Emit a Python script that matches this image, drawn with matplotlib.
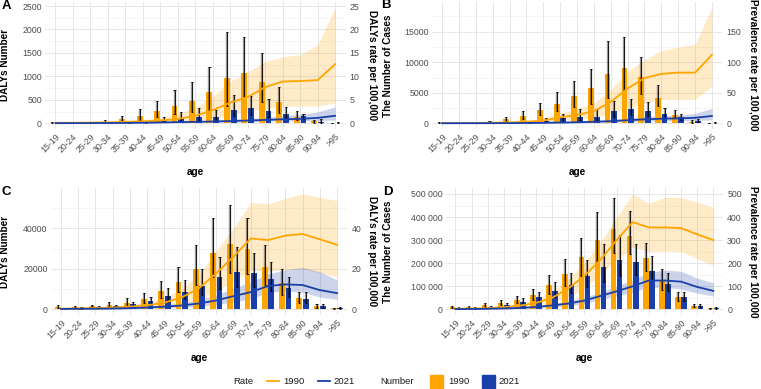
import numpy as np
import matplotlib.pyplot as plt
from matplotlib.ticker import FuncFormatter, MultipleLocator
from matplotlib.lines import Line2D
from matplotlib.patches import Rectangle

plt.rcParams['font.family'] = ['Liberation Sans', 'DejaVu Sans']

ages = ['15-19', '20-24', '25-29', '30-34', '35-39', '40-44', '45-49', '50-54', '55-59',
        '60-64', '65-69', '70-74', '75-79', '80-84', '85-90', '90-94', '>95']

# A - DALYs, number + rate
a_num_1990 = [10, 5, 6, 20, 92, 163, 263, 376, 483, 660, 966, 1080, 888, 462, 142, 43, 5]
a_num_1990_lo = [3, 1, 2, 8, 40, 75, 140, 190, 250, 285, 360, 555, 450, 215, 60, 15, 1]
a_num_1990_hi = [25, 15, 18, 60, 165, 310, 470, 715, 870, 1210, 1940, 1830, 1500, 765, 260, 80, 12]
a_num_2021 = [3, 3, 3, 5, 10, 30, 55, 110, 125, 140, 285, 320, 260, 195, 150, 35, 15]
a_num_2021_lo = [1, 1, 1, 2, 4, 12, 25, 55, 65, 75, 150, 170, 140, 110, 85, 15, 5]
a_num_2021_hi = [8, 8, 8, 15, 25, 55, 140, 250, 320, 285, 600, 580, 510, 355, 200, 85, 35]
a_rate_1990 = [0.1, 0.1, 0.15, 0.2, 0.3, 0.4, 0.6, 0.9, 1.6, 2.8, 4.4, 5.6, 7.7, 8.9, 9.0, 9.2, 12.6]
a_rate_1990_lo = [0.05, 0.05, 0.07, 0.1, 0.15, 0.2, 0.3, 0.4, 0.6, 1.1, 1.8, 2.5, 3.2, 3.6, 3.7, 3.7, 4.3]
a_rate_1990_hi = [0.2, 0.2, 0.3, 0.4, 0.6, 0.8, 1.2, 2.0, 3.4, 5.7, 8.9, 11.0, 13.1, 14.2, 14.6, 16.7, 24.7]
a_rate_2021 = [0.03, 0.03, 0.04, 0.05, 0.08, 0.12, 0.18, 0.25, 0.3, 0.38, 0.48, 0.58, 0.72, 0.85, 0.95, 1.15, 1.6]
a_rate_2021_lo = [0.01, 0.01, 0.02, 0.03, 0.04, 0.06, 0.1, 0.14, 0.17, 0.2, 0.26, 0.32, 0.4, 0.45, 0.5, 0.55, 0.7]
a_rate_2021_hi = [0.06, 0.06, 0.08, 0.1, 0.15, 0.22, 0.32, 0.42, 0.5, 0.65, 0.85, 1.0, 1.25, 1.6, 1.9, 2.4, 3.5]

# B - prevalence, number + rate
b_num_1990 = [100, 50, 50, 120, 710, 1200, 2180, 3160, 4470, 5725, 8015, 9050, 7580, 4200, 1360, 270, 40]
b_num_1990_lo = [40, 15, 15, 50, 350, 650, 1350, 2000, 2600, 3100, 4200, 5500, 4800, 2800, 900, 100, 10]
b_num_1990_hi = [250, 150, 150, 350, 1050, 1950, 3350, 5200, 6900, 8950, 13500, 14150, 10900, 6300, 2100, 550, 120]
b_num_2021 = [20, 20, 30, 40, 80, 150, 440, 820, 980, 1090, 2020, 2290, 2020, 1530, 980, 380, 100]
b_num_2021_lo = [8, 8, 12, 15, 35, 70, 220, 450, 550, 600, 1100, 1300, 1200, 900, 550, 180, 40]
b_num_2021_hi = [60, 60, 80, 100, 180, 300, 900, 1450, 2400, 2300, 3650, 4050, 3500, 2450, 1450, 650, 250]
b_rate_1990 = [0.2, 0.3, 0.5, 1.0, 1.5, 2.5, 4.4, 9.8, 13.6, 20, 35, 57, 74, 81, 83, 83, 112]
b_rate_1990_lo = [0.1, 0.15, 0.25, 0.5, 0.8, 1.3, 2.2, 4.5, 6, 9, 16, 25, 33, 39, 39, 39, 61]
b_rate_1990_hi = [0.4, 0.5, 0.9, 1.8, 2.7, 4.5, 8, 17, 24, 33, 55, 85, 104, 119, 125, 129, 190]
b_rate_2021 = [0.1, 0.1, 0.15, 0.2, 0.3, 0.5, 0.8, 1.2, 1.7, 2.5, 3.5, 5, 6.5, 7.5, 8, 9, 12]
b_rate_2021_lo = [0.05, 0.05, 0.08, 0.1, 0.15, 0.25, 0.4, 0.6, 0.9, 1.3, 1.8, 2.6, 3.3, 3.8, 4, 4.5, 5.5]
b_rate_2021_hi = [0.2, 0.2, 0.3, 0.4, 0.6, 1, 1.6, 2.3, 3.2, 4.6, 6.4, 8.8, 11, 12.5, 13.5, 16, 24.5]

# C - DALYs, number + rate
c_num_1990 = [1300, 1000, 1500, 2100, 3300, 5100, 9050, 13660, 19900, 27980, 32260, 29960, 21070, 12840, 5760, 1650, 500]
c_num_1990_lo = [700, 500, 800, 1100, 1800, 3000, 5800, 8800, 12000, 16000, 18000, 17500, 12000, 7000, 3300, 900, 250]
c_num_1990_hi = [2100, 1600, 2100, 3450, 5400, 7900, 14150, 20900, 31900, 44950, 51500, 44950, 32000, 19750, 8560, 2630, 800]
c_num_2021 = [500, 700, 1000, 1500, 2400, 4000, 6580, 8720, 11690, 16130, 18440, 17780, 14980, 10530, 5270, 1480, 600]
c_num_2021_lo = [250, 400, 550, 850, 1400, 2400, 3800, 5000, 7000, 10000, 11000, 11000, 9000, 6000, 3000, 900, 350]
c_num_2021_hi = [900, 1100, 1500, 2300, 3700, 6300, 10370, 14490, 19900, 25680, 30620, 27650, 23210, 15970, 8560, 2470, 1000]
c_rate_1990 = [0.3, 0.4, 0.6, 0.9, 1.3, 2.0, 3.3, 5.9, 10.4, 17.8, 26, 35, 34.2, 36.4, 37.2, 34.6, 31.8]
c_rate_1990_lo = [0.1, 0.2, 0.3, 0.4, 0.6, 1.0, 1.6, 2.9, 5.5, 9, 14, 19.5, 19, 19.5, 20, 18, 16]
c_rate_1990_hi = [0.6, 0.8, 1.1, 1.6, 2.4, 3.6, 5.8, 10, 17, 29, 40, 52.8, 52, 54.8, 57, 55.3, 53.7]
c_rate_2021 = [0.2, 0.25, 0.3, 0.4, 0.6, 0.9, 1.3, 1.9, 2.9, 4.4, 6.5, 8.5, 11.5, 12.3, 12, 9.5, 8]
c_rate_2021_lo = [0.1, 0.12, 0.15, 0.2, 0.3, 0.45, 0.7, 1.0, 1.6, 2.4, 3.6, 5, 8.5, 9, 8.5, 6, 5]
c_rate_2021_hi = [0.35, 0.4, 0.5, 0.7, 1.0, 1.5, 2.2, 3.2, 4.8, 7, 10.5, 13.5, 17.5, 19.5, 20.7, 18.6, 14.5]

# D - prevalence, number + rate
d_num_1990 = [11500, 10000, 18800, 27500, 42000, 62000, 105000, 153000, 225000, 299000, 348000, 319000, 221000, 123000, 53500, 14500, 4000]
d_num_1990_lo = [7000, 6000, 11000, 17000, 27000, 40000, 65000, 100000, 145000, 205000, 245000, 240000, 165000, 85000, 35000, 9000, 2500]
d_num_1990_hi = [16000, 14000, 28000, 40000, 58000, 87000, 148000, 217000, 310000, 420000, 482000, 425000, 287000, 173000, 75000, 22000, 6000]
d_num_2021 = [5000, 6000, 9000, 18000, 33000, 53000, 80000, 106000, 146000, 183000, 214000, 206000, 167000, 111000, 55000, 16000, 5000]
d_num_2021_lo = [3000, 3500, 5500, 11000, 21000, 34000, 52000, 70000, 95000, 120000, 145000, 150000, 125000, 80000, 38000, 10000, 3000]
d_num_2021_hi = [8000, 9000, 14000, 27000, 48000, 76000, 120000, 157000, 213000, 282000, 320000, 285000, 230000, 157000, 75000, 25000, 8000]
d_rate_1990 = [2, 3, 5, 9, 16, 28, 50, 90, 145, 215, 300, 378, 355, 355, 352, 325, 300]
d_rate_1990_lo = [1, 1.5, 2.5, 5, 9, 16, 29, 55, 90, 150, 215, 270, 250, 252, 250, 220, 190]
d_rate_1990_hi = [3, 5, 8, 14, 24, 42, 75, 130, 200, 290, 400, 500, 460, 485, 485, 465, 440]
d_rate_2021 = [1, 1.5, 2.5, 4, 6, 10, 17, 25, 38, 58, 78, 100, 125, 125, 120, 97, 80]
d_rate_2021_lo = [0.5, 0.8, 1.3, 2, 3.5, 6, 10, 16, 25, 42, 58, 75, 95, 95, 88, 70, 58]
d_rate_2021_hi = [1.5, 2.5, 3.8, 6, 9, 15, 25, 37, 52, 75, 100, 128, 160, 170, 165, 135, 115]

W, H = 761, 389
col_90 = '#FFA500'
col_21 = '#1A3FA8'
grey30 = '#4D4D4D'

fig = plt.figure(figsize=(W / 100, H / 100), dpi=100)


def space_fmt(v, pos):
    return '{:,}'.format(int(round(v))).replace(',', ' ')


def plain_fmt(v, pos):
    return '{:d}'.format(int(round(v)))


def err(ax, xs, lo, hi):
    ax.vlines(xs, lo, hi, color='black', alpha=0.4, lw=1.7, zorder=3)
    ax.vlines(xs, lo, hi, color='black', lw=0.6, zorder=3.1)
    ax.hlines(hi, xs - 0.06, xs + 0.06, color='black', lw=0.6, zorder=3.1)
    ax.hlines(lo, xs - 0.06, xs + 0.06, color='black', lw=0.6, zorder=3.1)


def panel(rect, letter, letter_xy, ylim, step, scale, fmt, nums, rates, ylab, rlab, ylab_x, rlab_x):
    x0, y0, x1, y1 = rect
    ax = fig.add_axes([x0 / W, 1 - y1 / H, (x1 - x0) / W, (y1 - y0) / H])
    x = np.arange(len(ages))
    n90, n90lo, n90hi, n21, n21lo, n21hi = [np.array(v, float) for v in nums]
    r90, r90lo, r90hi, r21, r21lo, r21hi = [np.array(v, float) * scale for v in rates]

    ax.fill_between(x, r90lo, r90hi, color=col_90, alpha=0.22, lw=0, zorder=1)
    ax.fill_between(x, r21lo, r21hi, color=col_21, alpha=0.22, lw=0, zorder=1)
    ax.bar(x - 0.19, n90, width=0.34, color=col_90, zorder=2)
    ax.bar(x + 0.19, n21, width=0.34, color=col_21, zorder=2)
    err(ax, x - 0.19, n90lo, n90hi)
    err(ax, x + 0.19, n21lo, n21hi)
    ax.plot(x, r90, color=col_90, lw=1.3, zorder=4)
    ax.plot(x, r21, color=col_21, lw=1.3, zorder=4)

    ax.set_xlim(-0.6, len(ages) - 0.4)
    ax.set_ylim(*ylim)
    ax.set_xticks(x)
    ax.set_xticklabels(ages, rotation=45, ha='right', va='top', rotation_mode='anchor')
    ax.yaxis.set_major_locator(MultipleLocator(step))
    ax.yaxis.set_minor_locator(MultipleLocator(step / 2))
    ax.yaxis.set_major_formatter(FuncFormatter(fmt))
    ax.set_axisbelow(True)
    ax.grid(which='major', color='#E6E6E6', lw=0.7)
    ax.grid(which='minor', axis='y', color='#F2F2F2', lw=0.5)
    for s in ax.spines.values():
        s.set_visible(False)
    ax.tick_params(which='both', length=0, colors=grey30, labelsize=6.3)
    ax.tick_params(axis='y', pad=2.2)
    ax.tick_params(axis='x', pad=2)
    ax.set_ylabel(ylab, fontsize=7.2, fontweight='bold', va='center')
    ax.yaxis.set_label_coords(ylab_x, 0.5)
    ax.set_xlabel('age', fontsize=7.2, fontweight='bold', va='center')
    ax.xaxis.set_label_coords(0.5, -0.34)

    ax2 = ax.twinx()
    ax2.set_ylim(ylim[0] / scale, ylim[1] / scale)
    ax2.yaxis.set_major_locator(MultipleLocator(step / scale))
    ax2.yaxis.set_major_formatter(FuncFormatter(plain_fmt))
    for s in ax2.spines.values():
        s.set_visible(False)
    ax2.tick_params(length=0, colors=grey30, labelsize=6.3, pad=3)
    ax2.set_ylabel(rlab, fontsize=7.2, fontweight='bold', rotation=-90, va='center')
    ax2.yaxis.set_label_coords(rlab_x, 0.5)

    fig.text(letter_xy[0] / W, 1 - letter_xy[1] / H, letter, fontsize=9.5,
             fontweight='bold', ha='center', va='center')


panel((45, 1.6, 345.6, 129.1), 'A', (6, 6), (-124, 2594), 500, 100, plain_fmt,
      (a_num_1990, a_num_1990_lo, a_num_1990_hi, a_num_2021, a_num_2021_lo, a_num_2021_hi),
      (a_rate_1990, a_rate_1990_lo, a_rate_1990_hi, a_rate_2021, a_rate_2021_lo, a_rate_2021_hi),
      'DALYs Number', 'DALYs rate per 100,000', -0.133, 1.088)
panel((432, 1.5, 722, 129.1), 'B', (386, 5), (-950, 19950), 5000, 100, plain_fmt,
      (b_num_1990, b_num_1990_lo, b_num_1990_hi, b_num_2021, b_num_2021_lo, b_num_2021_hi),
      (b_rate_1990, b_rate_1990_lo, b_rate_1990_hi, b_rate_2021, b_rate_2021_lo, b_rate_2021_hi),
      'The Number of Cases', 'Prevalence rate per 100,000', -0.152, 1.107)
panel((50.6, 188.1, 347.4, 315.1), 'C', (6, 192), (-2850, 59850), 20000, 1000, plain_fmt,
      (c_num_1990, c_num_1990_lo, c_num_1990_hi, c_num_2021, c_num_2021_lo, c_num_2021_hi),
      (c_rate_1990, c_rate_1990_lo, c_rate_1990_hi, c_rate_2021, c_rate_2021_lo, c_rate_2021_hi),
      'DALYs Number', 'DALYs rate per 100,000', -0.154, 1.083)
panel((445.8, 188.2, 723, 315.1), 'D', (388, 192.5), (-25000, 525000), 100000, 1000, space_fmt,
      (d_num_1990, d_num_1990_lo, d_num_1990_hi, d_num_2021, d_num_2021_lo, d_num_2021_hi),
      (d_rate_1990, d_rate_1990_lo, d_rate_1990_hi, d_rate_2021, d_rate_2021_lo, d_rate_2021_hi),
      'The Number of Cases', 'Prevalence rate per 100,000', -0.209, 1.108)

# legend along the bottom, laid out in pixels
ly = 1 - 381.3 / H


def ltext(xp, s):
    fig.text(xp / W, ly, s, fontsize=6.8, ha='left', va='center', color='#1A1A1A')


ltext(233, 'Rate')
fig.add_artist(Line2D([267 / W, 279 / W], [ly, ly], color=col_90, lw=1.3))
ltext(283, '1990')
fig.add_artist(Line2D([318 / W, 330 / W], [ly, ly], color=col_21, lw=1.3))
ltext(333, '2021')
ltext(380, 'Number')
fig.add_artist(Rectangle((430 / W, 1 - 387.7 / H), 13 / W, 12.7 / H, color=col_90,
                         transform=fig.transFigure))
ltext(448, '1990')
fig.add_artist(Rectangle((482 / W, 1 - 387.7 / H), 13 / W, 12.7 / H, color=col_21,
                         transform=fig.transFigure))
ltext(498, '2021')

fig.savefig('out.png', dpi=100)
